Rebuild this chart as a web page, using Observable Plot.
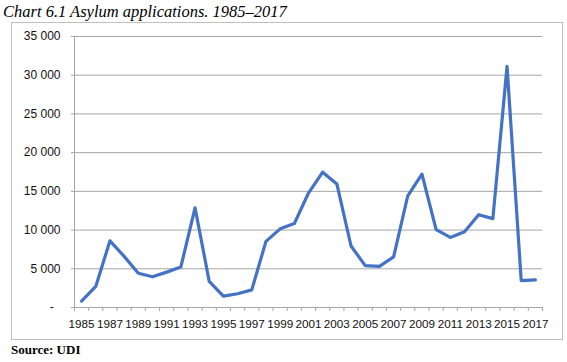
<!DOCTYPE html>
<html><head><meta charset="utf-8">
<script src="https://cdn.jsdelivr.net/npm/d3@7"></script>
<script src="https://cdn.jsdelivr.net/npm/@observablehq/plot@0.6"></script>
<style>
body{margin:0;background:#fff;width:567px;height:362px;position:relative;overflow:hidden}
#title{position:absolute;left:3px;top:2px;font:italic 16.5px "Liberation Serif";color:#000;white-space:nowrap;line-height:normal}
#frame{position:absolute;left:11px;top:22px;width:550px;height:316px;border:1px solid #bfbfbf}
#chart{position:absolute;left:0;top:0}
#source{position:absolute;left:11px;top:342px;font:bold 13px "Liberation Serif";color:#000;white-space:nowrap;line-height:normal}
</style></head><body>
<div id="title">Chart 6.1 Asylum applications. 1985–2017</div>
<div id="frame"></div>
<div id="chart"></div>
<div id="source">Source: UDI</div>
<script>
const years = [1985,1986,1987,1988,1989,1990,1991,1992,1993,1994,1995,1996,1997,1998,1999,2000,2001,2002,2003,2004,2005,2006,2007,2008,2009,2010,2011,2012,2013,2014,2015,2016,2017];
const applications = [829,2722,8613,6602,4433,3962,4569,5238,12876,3379,1460,1778,2271,8543,10160,10842,14782,17480,15959,7945,5402,5320,6528,14431,17226,10064,9053,9785,11983,11480,31145,3460,3560];
const yTicks = [0,5000,10000,15000,20000,25000,30000,35000];
const xLabelYears = [1985,1987,1989,1991,1993,1995,1997,1999,2001,2003,2005,2007,2009,2011,2013,2015,2017];

const data = years.map((year, i) => ({year, value: applications[i]}));
const xBounds = years.map(y => y - 0.5).concat([years[years.length - 1] + 0.5]);
const yMin = yTicks[0], yMax = yTicks[yTicks.length - 1];
const gridColor = "#a6a6a6";
const fmtY = d => d === 0 ? "-\u00a0\u00a0" : d3.format(",")(d).replace(/,/g, " ");

const chart = Plot.plot({
  width: 567,
  height: 362,
  marginLeft: 74,
  marginRight: 25,
  marginTop: 36,
  marginBottom: 55,
  style: {fontFamily: "Liberation Sans", color: "#111", background: "transparent"},
  x: {type: "linear", domain: [xBounds[0], xBounds[xBounds.length - 1]]},
  y: {domain: [yMin, yMax]},
  marks: [
    Plot.gridY(yTicks.filter(d => d > 0), {stroke: gridColor, strokeOpacity: 1, strokeWidth: 1}),
    Plot.ruleX([xBounds[0]], {y1: yMin, y2: yMax, stroke: gridColor, strokeWidth: 1}),
    Plot.ruleY([yMin], {stroke: gridColor, strokeWidth: 1}),
    Plot.axisY({ticks: yTicks, tickFormat: fmtY, tickSize: 3, tickPadding: 11, fontSize: 12, stroke: gridColor, label: null}),
    Plot.axisX({ticks: xBounds, tickFormat: () => "", tickSize: 4, stroke: gridColor, label: null}),
    Plot.axisX({ticks: xLabelYears, tickFormat: d => String(d), tickSize: 0, tickPadding: 12, fontSize: 11.7, label: null}),
    Plot.line(data, {x: "year", y: "value", stroke: "#4472c4", strokeWidth: 3.2, strokeLinejoin: "round", strokeLinecap: "round"})
  ]
});
document.getElementById("chart").appendChild(chart);
</script>
</body></html>
